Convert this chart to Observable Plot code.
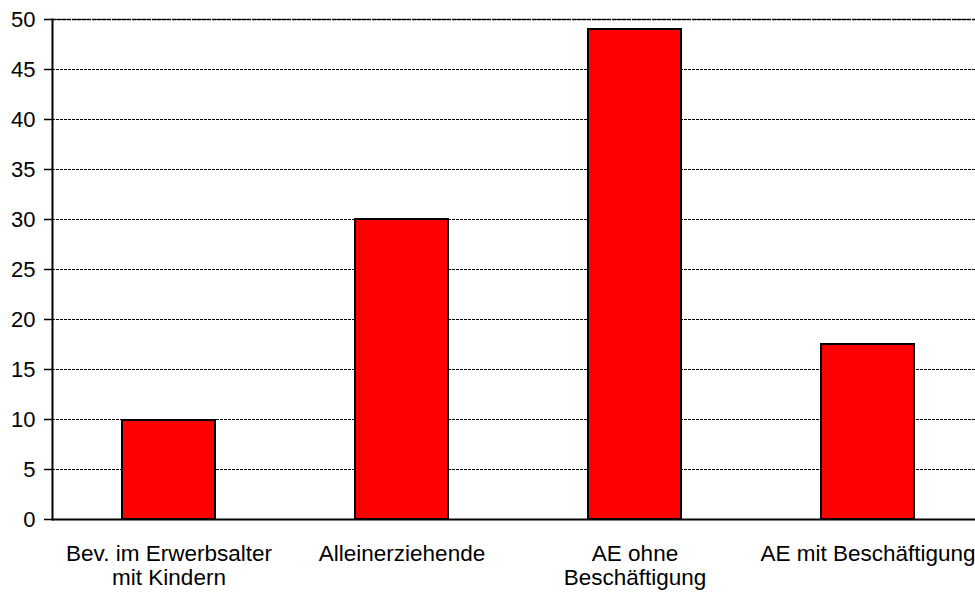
<!DOCTYPE html>
<html>
<head>
<meta charset="utf-8">
<script src="https://cdn.jsdelivr.net/npm/d3@7"></script>
<script src="https://cdn.jsdelivr.net/npm/@observablehq/plot@0.6"></script>
<style>
  html, body { margin: 0; padding: 0; background: #fff; overflow: hidden; }
  #chart svg { display: block; }
</style>
</head>
<body>
<div id="chart"></div>
<script>
const categories = [
  "Bev. im Erwerbsalter\nmit Kindern",
  "Alleinerziehende",
  "AE ohne\nBeschäftigung",
  "AE mit Beschäftigung"
];
const values = [9.9, 30.0, 49.0, 17.5];
const yTicks = [0, 5, 10, 15, 20, 25, 30, 35, 40, 45, 50];

const data = categories.map((c, i) => ({category: c, value: values[i]}));

const chart = Plot.plot({
  width: 975,
  height: 592,
  marginTop: 19,
  marginBottom: 73,
  marginLeft: 52,
  marginRight: 0,
  style: {fontFamily: "'Liberation Sans', Arial, sans-serif", fontSize: "22px", color: "#000", background: "#fff"},
  x: {domain: categories, range: [52, 984], paddingInner: 0.6, paddingOuter: 0.3, label: null},
  y: {domain: [0, 50], ticks: yTicks, label: null},
  marks: [
    Plot.gridY(yTicks, {stroke: "#000", strokeOpacity: 1, strokeWidth: 1, strokeDasharray: "3,1"}),
    Plot.ruleY([50], {stroke: "#000", strokeWidth: 1.5, strokeDasharray: "4,1"}),
    Plot.barY(data, {x: "category", y: "value", fill: "#ff0000", stroke: "#000", strokeWidth: 2}),
    Plot.ruleY([0], {stroke: "#000", strokeWidth: 2}),
    Plot.frame({anchor: "left", stroke: "#000", strokeWidth: 2}),
    Plot.axisY(yTicks, {tickSize: 8, tickPadding: 9, stroke: "#000", strokeWidth: 1.5, fontSize: 22, fill: "#000"}),
    Plot.axisX({tickSize: 0, tickPadding: 24, fontSize: 22.5, fill: "#000", lineHeight: 1.08})
  ]
});
document.getElementById("chart").appendChild(chart);
</script>
</body>
</html>
